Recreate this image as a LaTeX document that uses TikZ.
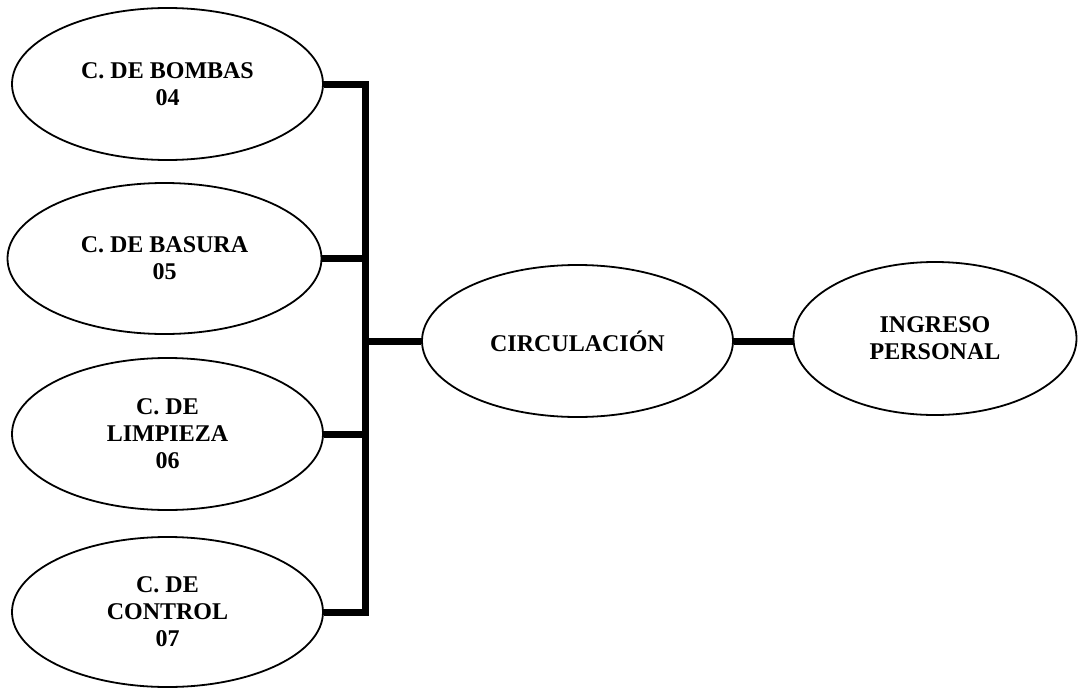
\documentclass[tikz,border=0pt]{standalone}
\usepackage{fontspec}
\setmainfont{Liberation Serif}
\usetikzlibrary{shapes.geometric}
\begin{document}
\begin{tikzpicture}[x=1pt,y=-1pt,
  oval/.style={draw=black,line width=1.8pt,ellipse,inner sep=0pt,align=center,
    font=\fontsize{24}{27}\selectfont\bfseries},
  link/.style={draw=black,line width=7pt}]
\useasboundingbox (0,0) rectangle (1079,688);
\node[oval,minimum width=311,minimum height=152] (e1) at (167.5,84) {C. DE BOMBAS\\04};
\node[oval,minimum width=314,minimum height=151] (e2) at (164.5,258.5) {C. DE BASURA\\05};
\node[oval,minimum width=311,minimum height=152] (e3) at (167.5,434) {C. DE\\LIMPIEZA\\06};
\node[oval,minimum width=311,minimum height=150] (e4) at (167.5,612) {C. DE\\CONTROL\\07};
\node[oval,minimum width=311,minimum height=152] (circ) at (577.5,341) {CIRCULACIÓN};
\node[oval,minimum width=283,minimum height=153] (ing) at (935,338.5) {INGRESO\\PERSONAL};
\coordinate (bj) at (365,341);
\draw[link] (e1.east) -| (bj);
\draw[link] (e2.east) -| (bj);
\draw[link] (e3.east) -| (bj);
\draw[link] (e4.east) -| (bj);
\draw[link] (bj) -- (circ.west);
\draw[link] (circ.east) -- (ing.west |- circ.east);
\end{tikzpicture}
\end{document}
